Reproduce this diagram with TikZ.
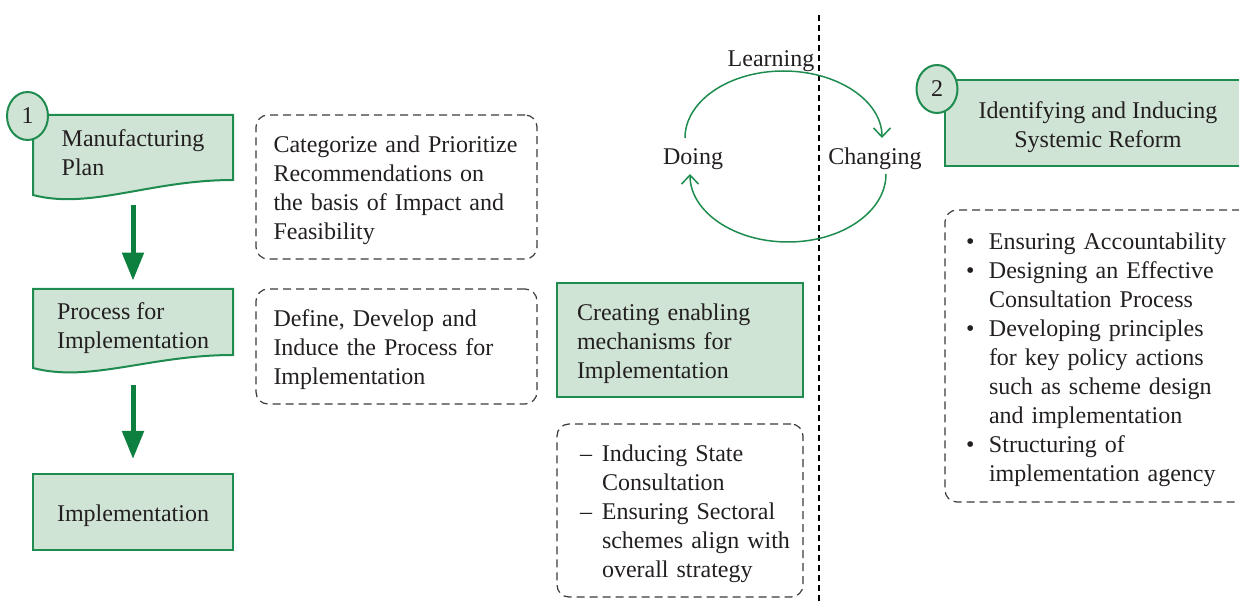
\documentclass[tikz,border=0pt]{standalone}
\usepackage{fontspec}
\setmainfont{Liberation Serif}
\usetikzlibrary{shapes.geometric,arrows.meta,backgrounds}
\definecolor{gfill}{HTML}{CFE4D5}
\definecolor{gline}{HTML}{1E8C4E}
\definecolor{garrow}{HTML}{0D7F3F}
\definecolor{dline}{HTML}{3A3A3A}
\definecolor{tcol}{HTML}{231F20}
\newcommand\tl[1]{\raisebox{0pt}[\dimexpr\height+3.5pt\relax][\depth]{\begin{tabular}{@{}l@{}}#1\end{tabular}}}
\newcommand\dsh{\makebox[11pt][l]{--}}
\newcommand\bul{\makebox[11.5pt][l]{\textbullet}}
\begin{document}
\begin{tikzpicture}[x=0.5pt,y=-0.5pt,
  txt/.style={font=\fontsize{12}{14.5}\selectfont, text=tcol},
  greenbox/.style={txt, draw=gline, fill=gfill, line width=1pt, inner sep=0pt},
  docbox/.style={txt, inner sep=0pt, minimum width=100pt, align=left},
  dashbox/.style={txt, draw=dline, dash pattern=on 4pt off 2.5pt, line width=0.6pt, rounded corners=6pt, align=left},
  numcirc/.style={txt, ellipse, draw=gline, fill=gfill, line width=1pt, inner sep=0pt, minimum width=20.5pt, minimum height=24pt},
  bigarrow/.style={draw=garrow, line width=2.5pt, -{Triangle[length=14pt,width=10.5pt]}},
  cyc/.style={draw=gline, line width=0.75pt, -{Straight Barb[length=4.5pt,width=8.5pt]}}
]
\useasboundingbox (0,0) rectangle (1239,604);

% left column
\node[docbox, minimum height=37.5pt] (mp) at (133,152.5) {Manufacturing\\Plan};
\node[docbox, minimum height=36.5pt] (pi) at (133,328.5) {Process for\\Implementation};
\node[greenbox, minimum width=100pt, minimum height=38pt] (im) at (133,512) {\tl{Implementation}};
\begin{scope}[on background layer]
  \path[fill=gfill, draw=gline, line width=1pt] (33,115) -- (233,115) -- (233,180)
     .. controls (150,180) and (90,210) .. (33,195) -- cycle;
  \path[fill=gfill, draw=gline, line width=1pt] (33,289) -- (233,289) -- (233,355)
     .. controls (150,355) and (90,383) .. (33,368) -- cycle;
\end{scope}
\node[numcirc] (n1) at (27.5,116) {1};

\draw[bigarrow, shorten <=7.5pt, shorten >=5.5pt] (mp.south) -- (pi.north);
\draw[bigarrow, shorten <=10pt, shorten >=7pt] (pi.south) -- (im.north);

% dashed boxes, middle
\node[dashbox, minimum width=140.5pt, minimum height=72pt, text width=123pt, inner xsep=8.75pt] (ba) at (396.5,187)
  {\tl{Categorize and Prioritize\\Recommendations on\\the basis of Impact and\\Feasibility}};
\node[dashbox, minimum width=140.5pt, minimum height=57.5pt, text width=123pt, inner xsep=8.75pt] (bb) at (396.5,346.5)
  {\tl{Define, Develop and\\Induce the Process for\\Implementation}};
\node[greenbox, align=left, minimum width=123pt, minimum height=57pt, text width=103pt, inner xsep=10pt] (ce) at (680,340)
  {\tl{Creating enabling\\mechanisms for\\Implementation}};
\node[dashbox, minimum width=123pt, minimum height=86.5pt, text width=100pt, inner xsep=11.5pt] (bc) at (680,510.5)
  {\tl{\dsh Inducing State\\\hspace*{11pt}Consultation\\\dsh Ensuring Sectoral\\\hspace*{11pt}schemes align with\\\hspace*{11pt}overall strategy}};

% divider
\coordinate (vt) at (819,15);
\coordinate (vb) at (819,604);
\draw[black, line width=0.6pt, dash pattern=on 3pt off 2pt] (vt) -- (vb);

% cycle
\node[txt] (lea) at (771,57) {\tl{Learning}};
\node[txt] (doi) at (693,155) {\tl{Doing}};
\node[txt] (cha) at (875,155) {\tl{Changing}};
\coordinate (c1) at (685,138);
\coordinate (c3) at (886,174);
\draw[cyc] (c1) arc[start angle=180, end angle=360, x radius=98.5, y radius=67];
\draw[cyc] (c3) arc[start angle=0, end angle=180, x radius=98, y radius=68];

% right side
\node[greenbox, minimum width=153pt, minimum height=43pt] (sr) at (1098,123.5)
  {\tl{\hfil Identifying and Inducing\hfil\\\hfil Systemic Reform\hfil}};
\node[numcirc] (n2) at (937,89) {2};
\node[dashbox, minimum width=160pt, minimum height=146pt, text width=139pt, inner xsep=10.5pt] (bd) at (1105,356)
  {\tl{\bul Ensuring Accountability\\\bul Designing an Effective\\\hspace*{11.5pt}Consultation Process\\\bul Developing principles\\\hspace*{11.5pt}for key policy actions\\\hspace*{11.5pt}such as scheme design\\\hspace*{11.5pt}and implementation\\\bul Structuring of\\\hspace*{11.5pt}implementation agency}};
\end{tikzpicture}
\end{document}
